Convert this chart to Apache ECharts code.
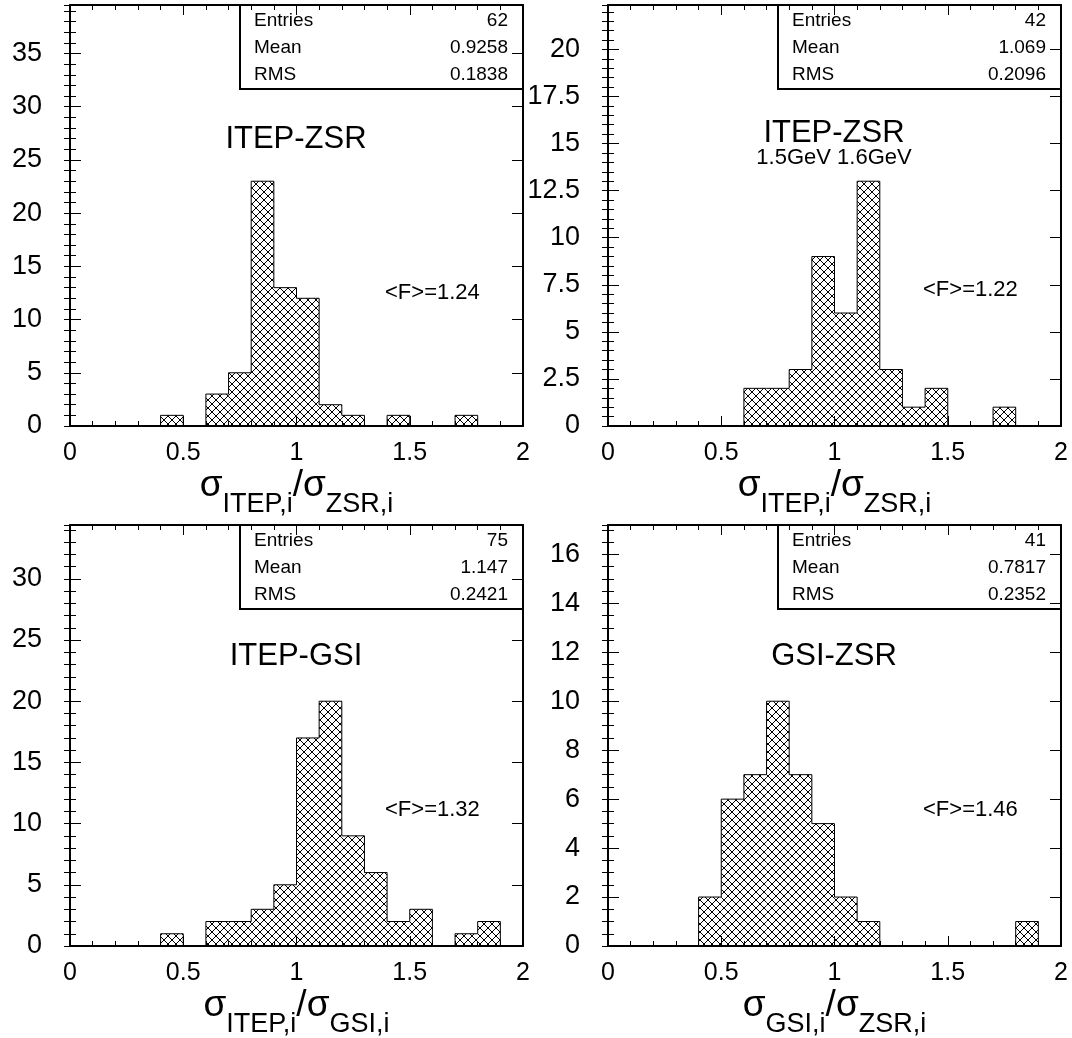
<!DOCTYPE html>
<html><head><meta charset="utf-8">
<script src="https://cdn.jsdelivr.net/npm/echarts@6/dist/echarts.min.js"></script>
<style>html,body{margin:0;padding:0;background:#fff}#c{width:1072px;height:1038px}</style>
</head><body><div id="c"></div>
<script>
// ---------- data ----------
const binLow  = [0.0,0.1,0.2,0.3,0.4,0.5,0.6,0.7,0.8,0.9,1.0,1.1,1.2,1.3,1.4,1.5,1.6,1.7,1.8,1.9];
const binHigh = [0.1,0.2,0.3,0.4,0.5,0.6,0.7,0.8,0.9,1.0,1.1,1.2,1.3,1.4,1.5,1.6,1.7,1.8,1.9,2.0];
const countsItepZsr    = [0,0,0,0,1,0,3,5,23,13,12,2,1,0,1,0,0,1,0,0];
const countsItepZsrGeV = [0,0,0,0,0,0,2,2,3,9,6,13,3,1,2,0,0,1,0,0];
const countsItepGsi    = [0,0,0,0,1,0,2,2,3,5,17,20,9,6,2,3,0,1,2,0];
const countsGsiZsr     = [0,0,0,0,2,6,7,10,7,5,2,1,0,0,0,0,0,0,1,0];
const panelCounts = [countsItepZsr, countsItepZsrGeV, countsItepGsi, countsGsiZsr];
const panelTitles = ['ITEP-ZSR','ITEP-ZSR','ITEP-GSI','GSI-ZSR'];
const panelSubtitles = ['','1.5GeV 1.6GeV','',''];
const factorLabels = ['<F>=1.24','<F>=1.22','<F>=1.32','<F>=1.46'];
const statEntries = ['62','42','75','41'];
const statMean = ['0.9258','1.069','1.147','0.7817'];
const statRms = ['0.1838','0.2096','0.2421','0.2352'];
const xNum = ['ITEP,i','ITEP,i','ITEP,i','GSI,i'];
const xDen = ['ZSR,i','ZSR,i','GSI,i','ZSR,i'];
const yMax = [39.56, 22.36, 34.4, 17.2];
const yMajor = [5, 2.5, 5, 2];
const yMinor = [1, 0.5, 1, 0.5];
const xMin = 0, xMax = 2, xMajor = 0.5;

// ---------- layout ----------
const FONT = '"Liberation Sans", Arial, Helvetica, sans-serif';
const panelOrigin = [[0,0],[538,0],[0,520],[538,520]];
const gridW = 453, gridH = 421, gridL0 = 70, gridT0 = 5;

function makeHatch(size) {
  const c = document.createElement('canvas');
  c.width = size; c.height = size;
  const g = c.getContext('2d');
  g.strokeStyle = '#000'; g.lineWidth = 1;
  g.beginPath();
  for (let k = -1; k <= 1; k++) {
    g.moveTo(k*size - 1, -1); g.lineTo(k*size + size + 1, size + 1);
    g.moveTo(k*size + size + 1, -1); g.lineTo(k*size - 1, size + 1);
  }
  g.stroke();
  return c;
}
const hatch = { image: makeHatch(8), repeat: 'repeat' };

const chart = echarts.init(document.getElementById('c'), null, {renderer: 'canvas'});
const grids = [], xAxes = [], yAxes = [], series = [], graphics = [];
const tickStyle = {color: '#000', width: 1};
const frameStyle = {color: '#000', width: 2};

for (let p = 0; p < 4; p++) {
  const [ox, oy] = panelOrigin[p];
  grids.push({left: gridL0 + ox, top: gridT0 + oy, width: gridW, height: gridH,
              containLabel: false, outerBoundsMode: 'none', show: false});
  const xName = '{s|σ}{b|' + xNum[p] + '}{s|/σ}{b|' + xDen[p] + '}';
  const xBase = {
    gridIndex: p, type: 'value', min: xMin, max: xMax, interval: xMajor,
    axisLine: {show: true, onZero: false, lineStyle: frameStyle},
    axisTick: {show: true, inside: true, length: 10, lineStyle: tickStyle},
    minorTick: {show: true, splitNumber: 5, length: 5, lineStyle: tickStyle},
    splitLine: {show: false}, minorSplitLine: {show: false}
  };
  xAxes.push(Object.assign({}, xBase, {
    position: 'bottom',
    axisLabel: {show: true, fontSize: 25, color: '#000', fontFamily: FONT, margin: 15},
    name: xName, nameLocation: 'middle', nameGap: 37,
    nameTextStyle: {
      color: '#000', fontFamily: FONT,
      rich: {
        s: {fontSize: 37, lineHeight: 37, fontFamily: FONT, color: '#000', verticalAlign: 'top'},
        b: {fontSize: 27, lineHeight: 27, fontFamily: FONT, color: '#000', verticalAlign: 'top', padding: [24, 0, 0, 0]}
      }
    }
  }));
  xAxes.push(Object.assign({}, xBase, {position: 'top', axisLabel: {show: false}}));

  const major = yMajor[p], minor = yMinor[p];
  const yBase = {gridIndex: p, type: 'value', min: 0, max: yMax[p],
                 splitLine: {show: false}, minorTick: {show: false}};
  const fmt = v => (Math.abs(v / major - Math.round(v / major)) < 1e-6) ? String(v) : '';
  ['left', 'right'].forEach(pos => {
    yAxes.push(Object.assign({}, yBase, {
      position: pos, interval: major,
      axisLine: {show: true, onZero: false, lineStyle: frameStyle},
      axisTick: {show: true, inside: true, length: 11, lineStyle: tickStyle},
      axisLabel: {show: pos === 'left', fontSize: 27, color: '#000', fontFamily: FONT,
                  margin: 28, formatter: fmt, showMaxLabel: false}
    }));
    yAxes.push(Object.assign({}, yBase, {
      position: pos, interval: minor,
      axisLine: {show: false},
      axisTick: {show: true, inside: true, length: 6, lineStyle: tickStyle},
      axisLabel: {show: false}
    }));
  });

  const counts = panelCounts[p];
  series.push({
    type: 'custom', xAxisIndex: 2*p, yAxisIndex: 4*p, silent: true, clip: true, z: 2,
    encode: {x: [0, 1], y: 2},
    data: binLow.map((x, i) => [x, binHigh[i], counts[i]]),
    renderItem: function (params, api) {
      const c = api.value(2);
      if (!c) return null;
      const p0 = api.coord([api.value(0), c]);
      const p1 = api.coord([api.value(1), 0]);
      return {type: 'rect',
              shape: {x: p0[0], y: p0[1], width: p1[0] - p0[0], height: p1[1] - p0[1]},
              style: {fill: hatch, stroke: null}};
    }
  });
  series.push({
    type: 'line', xAxisIndex: 2*p, yAxisIndex: 4*p, step: 'end', silent: true, z: 3,
    symbol: 'none', showSymbol: false,
    lineStyle: {color: '#000', width: 1},
    data: binLow.map((x, i) => [x, counts[i]]).concat([[binHigh[binHigh.length-1], counts[counts.length-1]]])
  });

  // stats box
  const bx = 240 + ox, by = 5 + oy, bRight = 523 + ox, bBottom = 89 + oy;
  graphics.push({type: 'polyline', silent: true, z: 10,
    shape: {points: [[bx, by], [bx, bBottom], [bRight, bBottom]]},
    style: {stroke: '#000', lineWidth: 2, fill: null}});
  const rows = [['Entries', statEntries[p]], ['Mean', statMean[p]], ['RMS', statRms[p]]];
  const rowY = [20.5, 47.5, 75];
  rows.forEach((r, i) => {
    graphics.push({type: 'text', silent: true, z: 10, style: {
      text: r[0], x: 254 + ox, y: rowY[i] + oy, fill: '#000',
      font: '19px ' + FONT, textAlign: 'left', textVerticalAlign: 'middle', align: 'left', verticalAlign: 'middle'}});
    graphics.push({type: 'text', silent: true, z: 10, style: {
      text: r[1], x: 508 + ox, y: rowY[i] + oy, fill: '#000',
      font: '19px ' + FONT, textAlign: 'right', textVerticalAlign: 'middle', align: 'right', verticalAlign: 'middle'}});
  });
  // title
  const titleY = [139, 133.5, 136, 136.5][p];
  graphics.push({type: 'text', silent: true, z: 10, style: {
    text: panelTitles[p], x: 296 + ox, y: titleY + oy, fill: '#000',
    font: '31px ' + FONT, textAlign: 'center', textVerticalAlign: 'middle', align: 'center', verticalAlign: 'middle'}});
  if (panelSubtitles[p]) {
    graphics.push({type: 'text', silent: true, z: 10, style: {
      text: panelSubtitles[p], x: 296 + ox, y: 157.5 + oy, fill: '#000',
      font: '22px ' + FONT, textAlign: 'center', textVerticalAlign: 'middle', align: 'center', verticalAlign: 'middle'}});
  }
  const fy = [292.5, 290, 290, 290][p];
  graphics.push({type: 'text', silent: true, z: 10, style: {
    text: factorLabels[p], x: 385 + ox, y: fy + oy, fill: '#000',
    font: '22px ' + FONT, textAlign: 'left', textVerticalAlign: 'middle', align: 'left', verticalAlign: 'middle'}});
}

chart.setOption({
  animation: false,
  backgroundColor: '#fff',
  grid: grids, xAxis: xAxes, yAxis: yAxes, series: series,
  graphic: {elements: graphics}
});
</script></body></html>
